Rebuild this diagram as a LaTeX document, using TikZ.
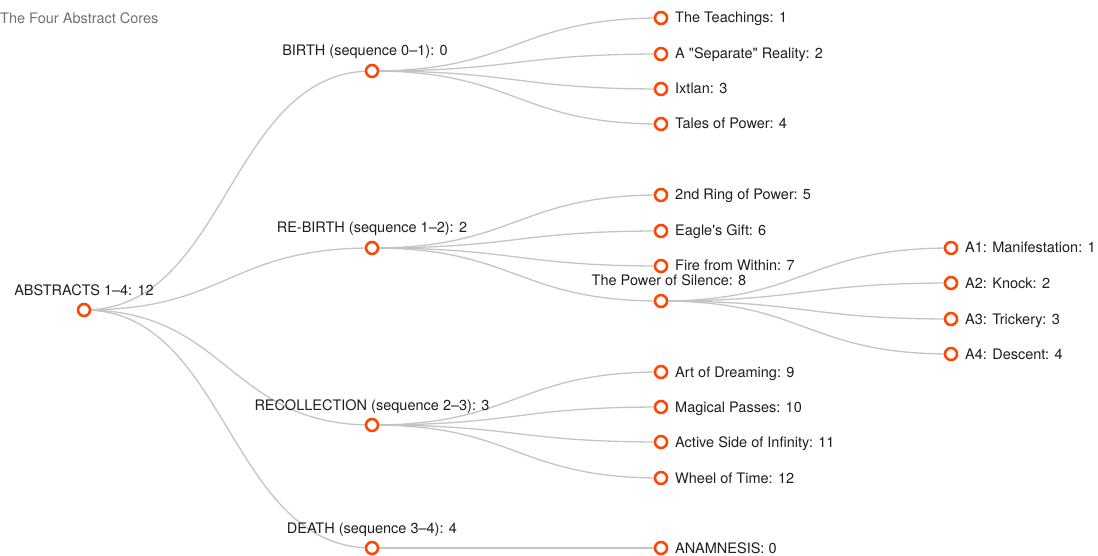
\documentclass[tikz,border=0pt]{standalone}
\usepackage{fontspec}
\setmainfont{TeX Gyre Heros}[Ligatures=TeXOff]
\usetikzlibrary{calc, backgrounds}
\definecolor{dotcol}{RGB}{255, 69, 0}
\definecolor{linkcol}{RGB}{196, 196, 196}
\definecolor{textcol}{RGB}{30, 30, 30}
\definecolor{titlecol}{RGB}{112, 112, 118}

\begin{document}
\begin{tikzpicture}[
    x=1pt, y=-1pt,
    font=\fontsize{14.5}{17}\selectfont,
    link/.style={draw=linkcol, line width=1.3pt},
    dot/.style={circle, draw=dotcol, fill=white, line width=2.5pt, minimum size=12pt, inner sep=0pt},
    leaftext/.style={anchor=base west, inner sep=0pt, text=textcol},
    innertext/.style={anchor=base, inner sep=0pt, text=textcol},
    titletext/.style={anchor=base west, inner sep=0pt, text=titlecol}
]
\clip (0,0) rectangle (1098,556);

% Title
\node[titletext] (title) at (0,24) {The Four Abstract Cores};

% Root and the four cores
\node[dot] (root)    at (84,310)  {};
\node[dot] (birth)   at (372,71)  {};
\node[dot] (rebirth) at (372,248) {};
\node[dot] (recoll)  at (372,425) {};
\node[dot] (death)   at (372,548) {};

% Books
\node[dot] (teach)    at (661,18)  {};
\node[dot] (separate) at (661,54)  {};
\node[dot] (ixtlan)   at (661,89)  {};
\node[dot] (tales)    at (661,124) {};
\node[dot] (ring)     at (661,195) {};
\node[dot] (eagle)    at (661,231) {};
\node[dot] (fire)     at (661,266) {};
\node[dot] (silence)  at (661,301) {};
\node[dot] (art)      at (661,372) {};
\node[dot] (passes)   at (661,407) {};
\node[dot] (active)   at (661,442) {};
\node[dot] (wheel)    at (661,478) {};
\node[dot] (anamn)    at (661,548) {};

% Silence sub-branches
\node[dot] (mani)    at (951,248) {};
\node[dot] (knock)   at (951,283) {};
\node[dot] (trick)   at (951,319) {};
\node[dot] (descent) at (951,354) {};

% Links (horizontal diagonals)
\begin{scope}[on background layer]
\foreach \a/\b in {root/birth, root/rebirth, root/recoll, root/death,
    birth/teach, birth/separate, birth/ixtlan, birth/tales,
    rebirth/ring, rebirth/eagle, rebirth/fire, rebirth/silence,
    recoll/art, recoll/passes, recoll/active, recoll/wheel,
    death/anamn,
    silence/mani, silence/knock, silence/trick, silence/descent}
  \draw[link] let \p1=(\a.center), \p2=(\b.center) in
    (\p1) .. controls ({(\x1+\x2)/2},\y1) and ({(\x1+\x2)/2},\y2) .. (\p2);
\end{scope}

% Labels above inner nodes
\node[innertext] (roottxt)    at ([yshift=15pt]root.center)               {ABSTRACTS 1–4: 12};
\node[innertext] (birthtxt)   at ([xshift=-7pt, yshift=15pt]birth.center) {BIRTH (sequence 0–1): 0};
\node[innertext] (rebirthtxt) at ([yshift=15pt]rebirth.center)            {RE-BIRTH (sequence 1–2): 2};
\node[innertext] (recolltxt)  at ([yshift=15pt]recoll.center)             {RECOLLECTION (sequence 2–3): 3};
\node[innertext] (deathtxt)   at ([yshift=15pt]death.center)              {DEATH (sequence 3–4): 4};
\node[innertext] (silencetxt) at ([xshift=8pt, yshift=15pt]silence.center) {The Power of Silence: 8};

% Labels right of leaves
\node[leaftext] (teachtxt)    at ([xshift=14pt, yshift=-5pt]teach.center)    {The Teachings: 1};
\node[leaftext] (separatetxt) at ([xshift=14pt, yshift=-5pt]separate.center) {A "Separate" Reality: 2};
\node[leaftext] (ixtlantxt)   at ([xshift=14pt, yshift=-5pt]ixtlan.center)   {Ixtlan: 3};
\node[leaftext] (talestxt)    at ([xshift=14pt, yshift=-5pt]tales.center)    {Tales of Power: 4};
\node[leaftext] (ringtxt)     at ([xshift=14pt, yshift=-5pt]ring.center)     {2nd Ring of Power: 5};
\node[leaftext] (eagletxt)    at ([xshift=14pt, yshift=-5pt]eagle.center)    {Eagle's Gift: 6};
\node[leaftext] (firetxt)     at ([xshift=14pt, yshift=-5pt]fire.center)     {Fire from Within: 7};
\node[leaftext] (arttxt)      at ([xshift=14pt, yshift=-5pt]art.center)      {Art of Dreaming: 9};
\node[leaftext] (passestxt)   at ([xshift=14pt, yshift=-5pt]passes.center)   {Magical Passes: 10};
\node[leaftext] (activetxt)   at ([xshift=14pt, yshift=-5pt]active.center)   {Active Side of Infinity: 11};
\node[leaftext] (wheeltxt)    at ([xshift=14pt, yshift=-5pt]wheel.center)    {Wheel of Time: 12};
\node[leaftext] (anamntxt)    at ([xshift=14pt, yshift=-5pt]anamn.center)    {ANAMNESIS: 0};
\node[leaftext] (manitxt)     at ([xshift=14pt, yshift=-5pt]mani.center)     {A1: Manifestation: 1};
\node[leaftext] (knocktxt)    at ([xshift=14pt, yshift=-5pt]knock.center)    {A2: Knock: 2};
\node[leaftext] (tricktxt)    at ([xshift=14pt, yshift=-5pt]trick.center)    {A3: Trickery: 3};
\node[leaftext] (descenttxt)  at ([xshift=14pt, yshift=-5pt]descent.center)  {A4: Descent: 4};

\end{tikzpicture}
\end{document}
